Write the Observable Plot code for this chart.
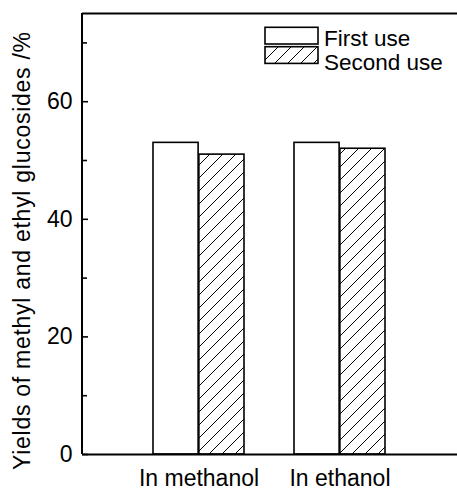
<!DOCTYPE html>
<html>
<head>
<meta charset="utf-8">
<script src="https://cdn.jsdelivr.net/npm/d3@7"></script>
<script src="https://cdn.jsdelivr.net/npm/@observablehq/plot@0.6"></script>
<style>
  html, body { margin: 0; padding: 0; background: white; }
  #chart { width: 457px; height: 491px; }
</style>
</head>
<body>
<div id="chart"></div>
<script>
// ---- data ----
const groups = ["In methanol", "In ethanol"];
const series = ["First use", "Second use"];
const firstUse = [53, 53];
const secondUse = [51, 52];
const yMajorTicks = [0, 20, 40, 60];
const yMinorTicks = [10, 30, 50, 70];
const yDomain = [0, 75];
const yTitle = "Yields of methyl and ethyl glucosides /%";

// ---- layout ----
const W = 457, H = 491;
const mL = 82, mR = 0, mT = 13, mB = 37;
const padInner = 0.352, padOuter = 0.5;
const frameW = W - mL - mR;
const bandW = frameW * (1 - padInner) / (groups.length - padInner + 2 * padOuter);
const tickLen = 6;
const font = "'Liberation Sans', Arial, Helvetica, sans-serif";

const rows = groups.map((g, i) => ({group: g, first: firstUse[i], second: secondUse[i]}));

const plot = Plot.plot({
  width: W,
  height: H,
  marginLeft: mL,
  marginRight: mR,
  marginTop: mT,
  marginBottom: mB,
  style: {fontFamily: font, fontSize: "23px", background: "white", color: "black", overflow: "visible"},
  x: {domain: groups, type: "band", paddingInner: padInner, paddingOuter: padOuter, tickSize: 0, tickPadding: 15, label: null},
  y: {domain: yDomain, ticks: yMajorTicks, tickSize: 0, tickPadding: 10, label: null},
  marks: [
    Plot.barY(rows, {x: "group", y: "first", fill: "white", stroke: "black", strokeWidth: 1.6, insetRight: bandW / 2}),
    Plot.barY(rows, {x: "group", y: "second", fill: "url(#hatch)", stroke: "black", strokeWidth: 1.6, insetLeft: bandW / 2}),
    Plot.ruleY(yMajorTicks, {stroke: "black", strokeWidth: 1.6, insetRight: frameW - tickLen}),
    Plot.ruleY(yMinorTicks, {stroke: "black", strokeWidth: 1.6, insetRight: frameW - tickLen + 1}),
    Plot.ruleY([yDomain[0]], {stroke: "black", strokeWidth: 2}),
    Plot.ruleY([yDomain[1]], {stroke: "black", strokeWidth: 2})
  ]
});

document.getElementById("chart").appendChild(plot);

const svg = d3.select(plot);
const ys = plot.scale("y");

// hatch pattern
const defs = svg.insert("defs", ":first-child");
const hp = defs.append("pattern")
  .attr("id", "hatch")
  .attr("patternUnits", "userSpaceOnUse")
  .attr("width", 13).attr("height", 13);
hp.append("rect").attr("width", 13).attr("height", 13).attr("fill", "white");
hp.append("path")
  .attr("d", "M-3,3 L3,-3 M0,13 L13,0 M10,16 L16,10")
  .attr("stroke", "black").attr("stroke-width", 1).attr("fill", "none");

// left axis line
svg.append("line")
  .attr("x1", mL).attr("x2", mL)
  .attr("y1", ys.apply(yDomain[1])).attr("y2", ys.apply(yDomain[0]))
  .attr("stroke", "black").attr("stroke-width", 2);

// y title
svg.append("text")
  .attr("transform", `translate(22,251) rotate(-90)`)
  .attr("text-anchor", "middle")
  .attr("dominant-baseline", "central")
  .attr("font-family", font)
  .attr("font-size", 23)
  .attr("textLength", 438)
  .attr("lengthAdjust", "spacing")
  .attr("fill", "black")
  .text(yTitle);

// legend
const legend = svg.append("g").attr("text-anchor", "start");
const legendRows = [
  {label: series[0], fill: "white", boxY: 27.3, textY: 46},
  {label: series[1], fill: "url(#hatch)", boxY: 46.7, textY: 69.5}
];
legendRows.forEach(r => {
  legend.append("rect")
    .attr("x", 265).attr("y", r.boxY).attr("width", 53).attr("height", 16.7)
    .attr("fill", r.fill).attr("stroke", "black").attr("stroke-width", 1.6);
  legend.append("text")
    .attr("x", 324).attr("y", r.textY)
    .attr("text-anchor", "start")
    .attr("font-family", font).attr("font-size", 22.5).attr("fill", "black")
    .text(r.label);
});
</script>
</body>
</html>
